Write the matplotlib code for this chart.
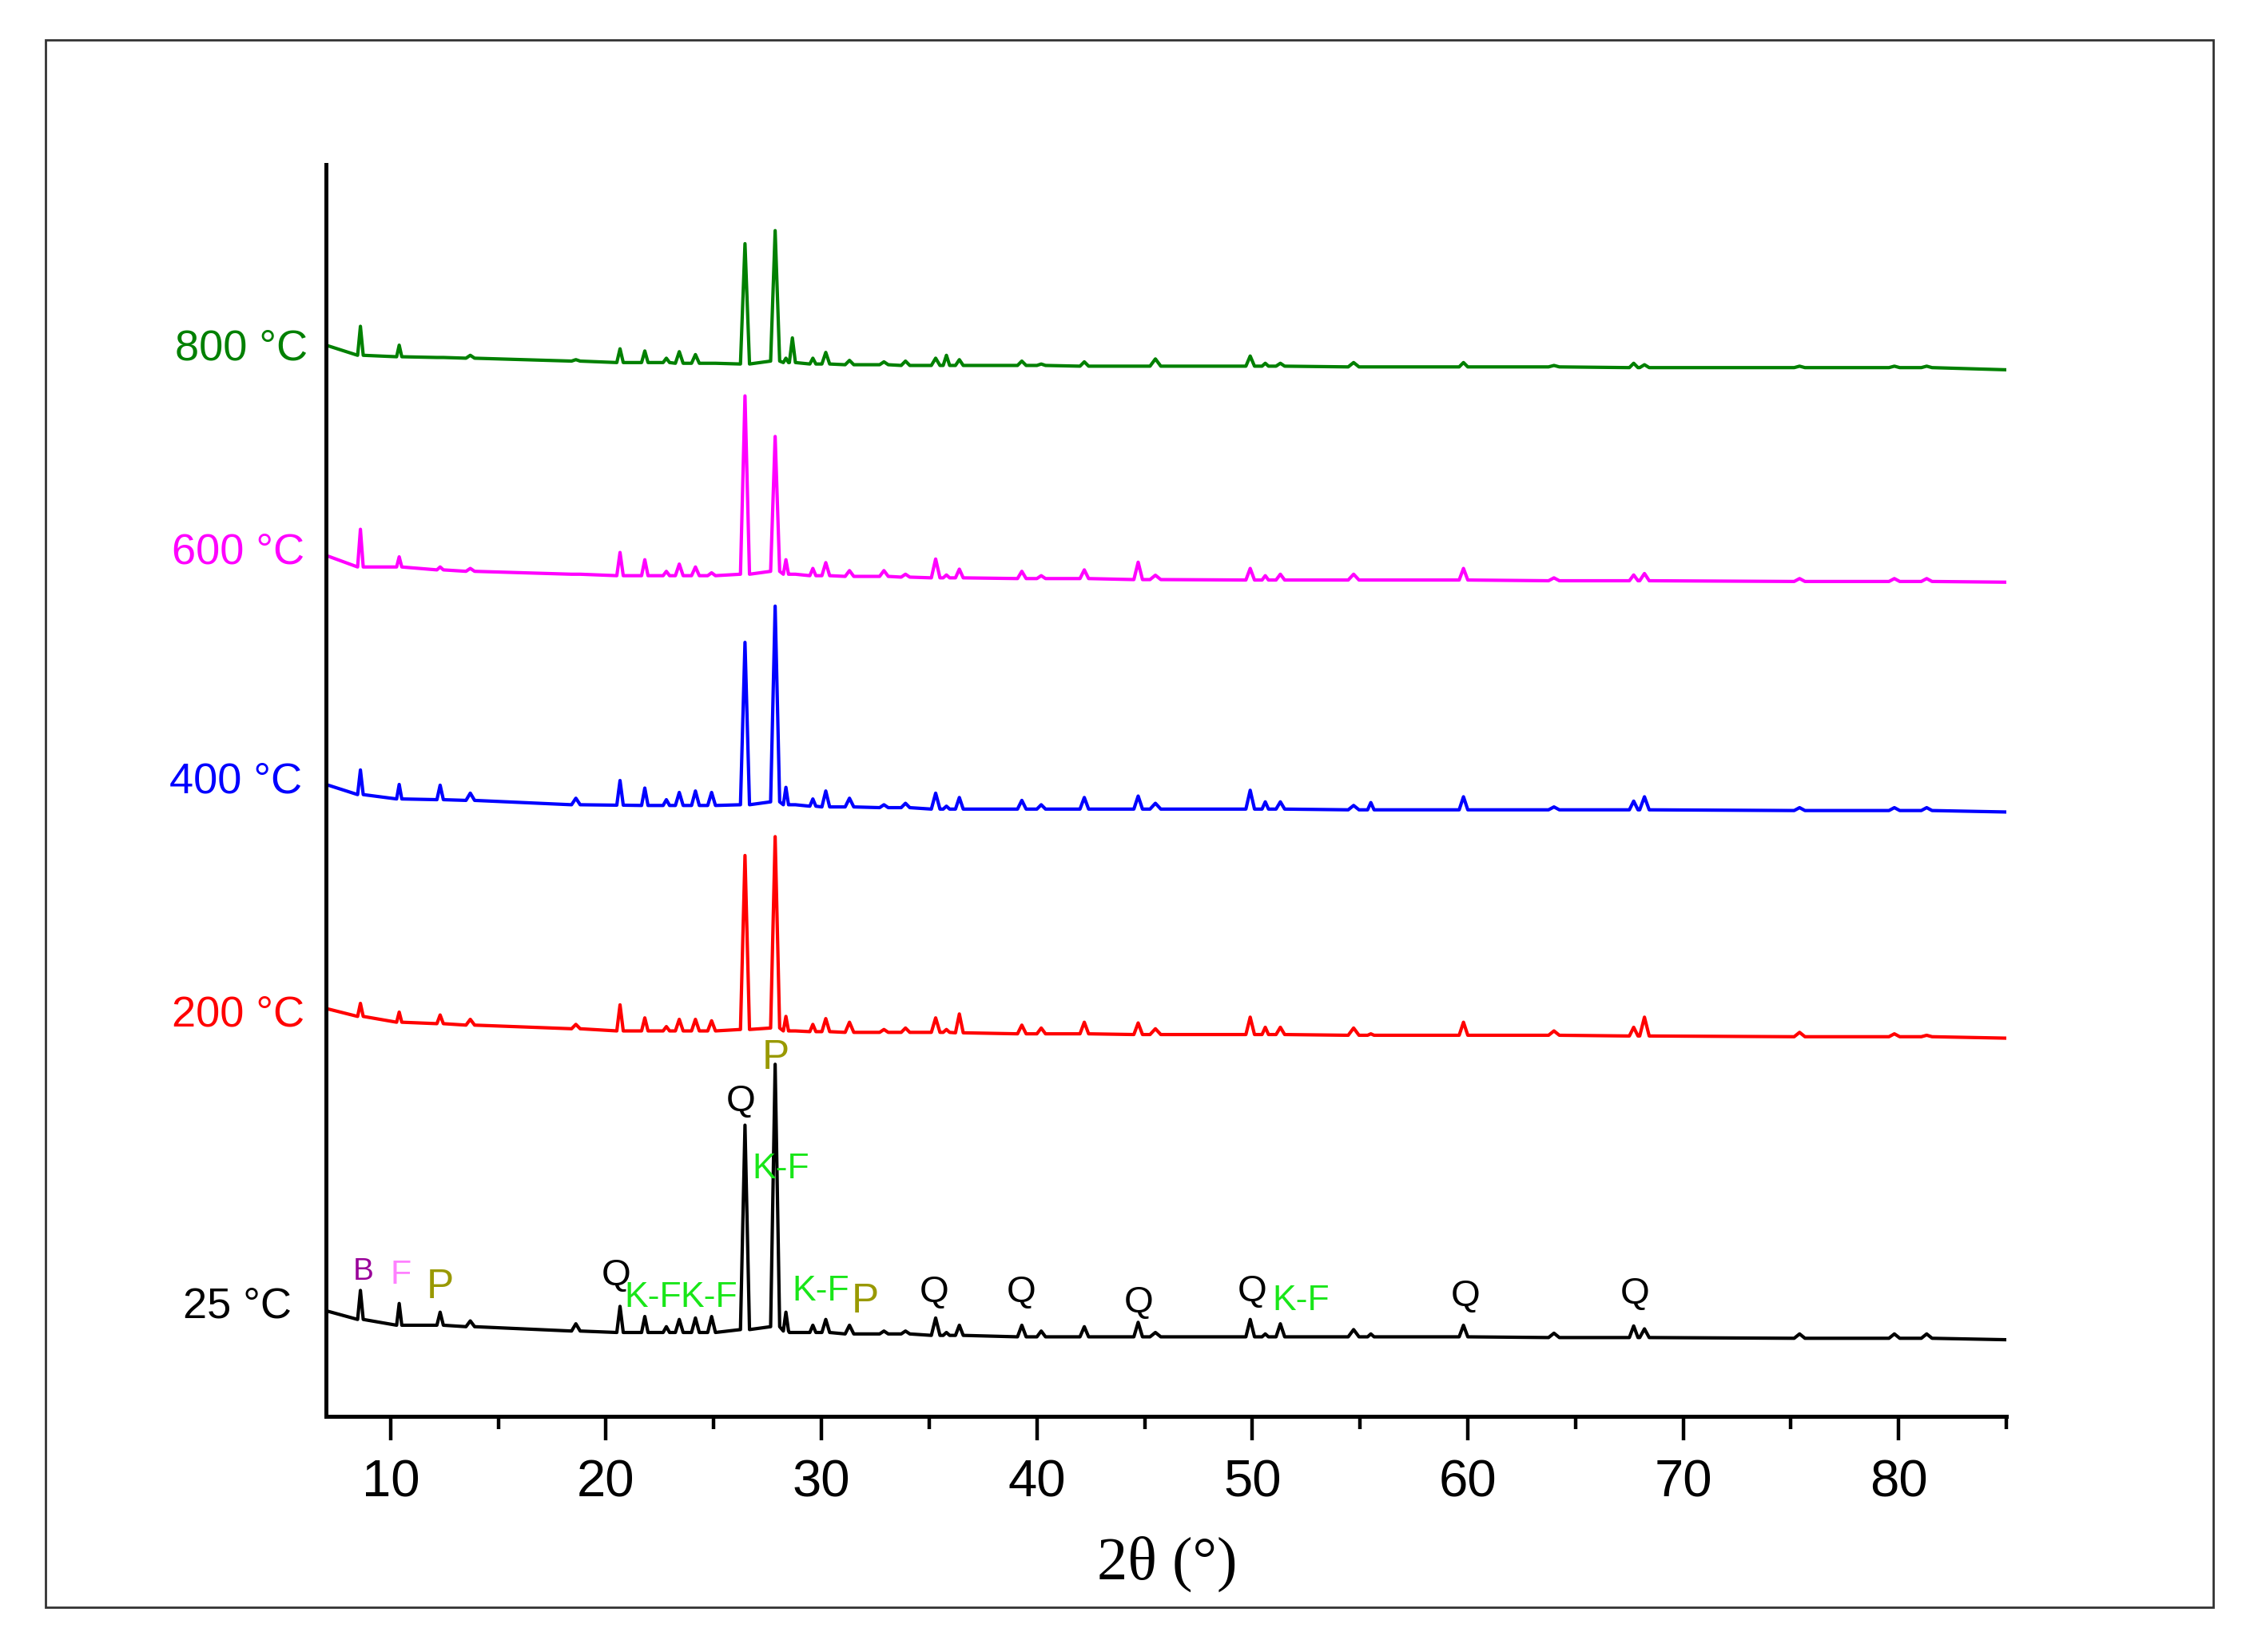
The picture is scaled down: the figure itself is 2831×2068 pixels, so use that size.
import matplotlib.pyplot as plt
from matplotlib.ticker import MultipleLocator
from matplotlib.patches import Rectangle

# Difractogramas de la muestra a distintas temperaturas (intensidad apilada, u.a.)

# Posiciones 2theta de las reflexiones
peak_pos = [8.6, 10.4, 12.3, 13.7, 18.6, 20.65, 21.8, 22.8, 23.4, 24.15, 24.9,
            26.45, 27.85, 28.35, 28.65, 29.6, 30.2, 31.3, 32.9, 33.9, 35.3, 35.8,
            36.4, 39.3, 40.2, 42.2, 44.7, 45.5, 49.9, 50.6, 51.3, 54.7, 55.5,
            59.8, 64.0, 67.7, 68.2, 75.4, 79.8, 81.3]
# semi-ancho en la base de cada pico (grados)
peak_hw = [0.13, 0.12, 0.15, 0.2, 0.2, 0.15, 0.15, 0.15, 0.18, 0.18, 0.18,
           0.21, 0.21, 0.12, 0.14, 0.14, 0.18, 0.2, 0.2, 0.2, 0.2, 0.15,
           0.18, 0.2, 0.2, 0.2, 0.2, 0.25, 0.2, 0.15, 0.2, 0.25, 0.15,
           0.2, 0.25, 0.2, 0.22, 0.25, 0.25, 0.25]

samples = ['25 °C', '200 °C', '400 °C', '600 °C', '800 °C']

start_25, end_25 = 79, 59
base_25 = [73, 69, 69, 68, 65, 64, 64, 64, 64, 64, 64, 66, 68, 65, 64, 64, 64, 63, 63, 63,
           62, 62, 62, 61, 61, 61, 61, 61, 61, 61, 61, 61, 61, 61, 60.5, 60.5, 60.5, 60, 60, 60]
height_25 = [20, 15, 9, 4, 5, 18, 11, 4, 9, 10, 11, 141, 181, 13, 0, 5, 9, 6, 2, 2,
             12, 2, 7, 8, 4, 7, 10, 3, 12, 2, 9, 5, 2, 8, 3, 8, 6, 3, 3, 3]

start_200, end_200 = 287.5, 267
base_200 = [282, 278, 277, 276, 273.5, 272, 272, 272, 272, 272, 272, 273, 274, 272, 272, 271.5,
            271.5, 271, 271, 271, 271, 271, 270.7, 270, 270, 270, 269.5, 269.5, 269.5, 269.5,
            269.5, 269, 269, 269, 269, 268.5, 268.5, 268, 268, 268]
height_200 = [9, 7, 6, 4, 3, 18, 9, 3, 8, 8, 7, 120, 132, 10, 0, 5, 9, 7, 2, 3,
              10, 2, 13, 6, 4, 8, 8, 4, 12, 5, 5, 5, 1, 9, 3, 6, 13, 3, 2, 1]

start_400, end_400 = 442, 423
base_400 = [435, 432, 431.5, 431, 428, 427.7, 427.5, 427.5, 427.5, 427.5, 427.5, 428, 430, 428,
            428, 427, 426.5, 426.5, 426, 426, 425, 425, 425, 425, 425, 425, 425, 425, 425, 425,
            425, 424.5, 424.5, 424.5, 424.5, 424.5, 424.5, 424, 424, 424]
height_400 = [17, 10, 10, 5, 4.5, 17, 12, 4, 9, 10, 9, 112, 135, 12, 0, 5, 11, 6, 2, 3,
              11, 2, 8, 6, 3, 8, 9, 4, 13, 5, 5, 3, 5, 9, 2, 6, 9, 2, 2, 2]

start_600, end_600 = 600, 581.5
base_600 = [592, 592, 590, 589, 587, 586, 586, 586, 586, 586, 586, 587, 589, 587, 587, 586, 586,
            585.5, 585.5, 585, 584.5, 584.5, 584.5, 584, 584, 584, 583.3, 583.3, 583, 583, 583,
            583, 583, 583, 582.5, 582.5, 582.5, 582, 582, 582]
height_600 = [26, 7, 2, 2, 0, 16, 11, 3, 8, 6, 2, 123, 93, 10, 0, 5, 9, 4, 4, 2,
              13, 2, 6, 5, 2, 6, 12, 3, 8, 3, 4, 4, 0, 8, 2, 4, 5, 2, 2, 2]

start_800, end_800 = 745, 728
base_800 = [738, 737, 736.5, 736, 734, 733, 733, 733, 732.5, 732.5, 732.5, 732, 734, 733, 733,
            732, 732, 731.5, 731.5, 731, 731, 731, 731, 731, 731, 730.5, 730.5, 730.5, 730.5,
            730.5, 730.5, 730, 730, 730, 730, 729.5, 729.5, 729.5, 729.5, 729.5]
height_800 = [20, 8, 0, 2, 1, 9.5, 8, 3, 8, 6, 0, 83, 90, 3, 17, 4, 8, 3, 2, 3,
              5, 7, 4, 3, 1, 3, 0, 5, 7, 2, 2, 3, 0, 3, 1, 3, 2, 1, 1, 1]

# Identificacion de fases sobre el patron de 25 °C
phase_text = ['B', 'F', 'P', 'Q', 'K-F', 'K-F', 'Q', 'P', 'K-F', 'K-F', 'P',
              'Q', 'Q', 'Q', 'Q', 'K-F', 'Q', 'Q']
phase_x = [8.72, 10.48, 12.31, 20.48, 22.17, 24.76, 26.26, 27.89, 28.1, 29.95, 32.03,
           35.24, 39.27, 44.74, 50.0, 52.26, 59.91, 67.77]
phase_y = [105.7, 103.8, 95, 103.3, 88.2, 88.2, 223.2, 253.5, 176.8, 92.6, 85.3,
           91.4, 91.4, 84.5, 92, 86, 88.6, 90.4]

phase_color = {'B': '#990099', 'F': '#FF80FF', 'P': '#999900', 'Q': 'black', 'K-F': '#19E619'}
phase_size = {'B': 28, 'F': 31, 'P': 37, 'Q': 34, 'K-F': 32}

colores = ['black', '#FF0000', '#0000FF', '#FF00FF', '#008000']
label_x = [5.42, 6.0, 5.9, 6.0, 6.14]
label_y = [82, 283, 444, 602, 742.6]


def trazar(inicio, fin, base, altura):
    # une base izquierda, cima y base derecha de cada reflexion
    x = [7.0]
    y = [inicio]
    for c, w, b, h in zip(peak_pos, peak_hw, base, altura):
        x += [c - w, c, c + w]
        y += [b, b + h, b]
    x.append(85.0)
    y.append(fin)
    return x, y


series = [(start_25, end_25, base_25, height_25),
          (start_200, end_200, base_200, height_200),
          (start_400, end_400, base_400, height_400),
          (start_600, end_600, base_600, height_600),
          (start_800, end_800, base_800, height_800)]

plt.rcParams['font.family'] = ['Liberation Sans', 'DejaVu Sans']

fig = plt.figure(figsize=(28.31, 20.68), dpi=100)
ax = fig.add_axes([0.1441, 0.1426, 0.887 - 0.1441, 0.9006 - 0.1426])

for (s, e, b, h), col, nombre, lx, ly in zip(series, colores, samples, label_x, label_y):
    x, y = trazar(s, e, b, h)
    ax.plot(x, y, color=col, lw=3.0, solid_joinstyle='round')
    ax.text(lx, ly, nombre, color=col, fontsize=39, ha='right', va='center', clip_on=False)

for t, px, py in zip(phase_text, phase_x, phase_y):
    ax.text(px, py, t, color=phase_color[t], fontsize=phase_size[t], ha='center', va='center')

ax.set_xlim(7, 85)
ax.set_ylim(6.1, 869.8)
ax.set_yticks([])
ax.xaxis.set_major_locator(MultipleLocator(10))
ax.xaxis.set_minor_locator(MultipleLocator(5))
ax.tick_params(axis='x', which='major', direction='out', length=21.6, width=3.2,
               labelsize=47, pad=17)
ax.tick_params(axis='x', which='minor', direction='out', length=11.5, width=3.2)
for lado in ['top', 'right']:
    ax.spines[lado].set_visible(False)
for lado in ['left', 'bottom']:
    ax.spines[lado].set_linewidth(3.6)

fig.text(0.516, 0.044, '2θ (°)', family='Liberation Serif', fontsize=55,
         ha='center', va='baseline')

# marco exterior
fig.add_artist(Rectangle((0.0201, 0.0271), 0.9584, 0.9488, transform=fig.transFigure,
                         fill=False, lw=2.0, ec='#333333'))

fig.savefig('out.png', dpi=100)
